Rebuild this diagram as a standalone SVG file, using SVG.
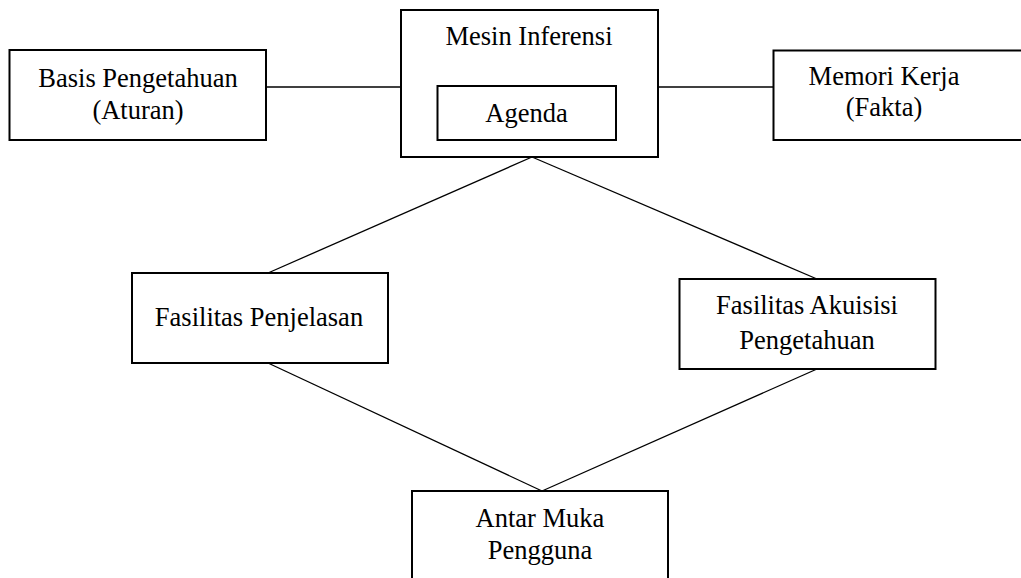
<svg xmlns="http://www.w3.org/2000/svg" width="1021" height="578" viewBox="0 0 1021 578">
<style>
.box{fill:#fff;stroke:#000;stroke-width:2}
.ln{stroke:#000;stroke-width:1.3;fill:none}
text{font-family:"Liberation Serif","Times New Roman",serif;font-size:26.5px;fill:#000;text-anchor:middle}
</style>
<rect width="1021" height="578" fill="#fff"/>
<g id="connectors">
<line class="ln" x1="266" y1="87" x2="401" y2="87"/>
<line class="ln" x1="658" y1="87" x2="773" y2="87"/>
<line class="ln" x1="532" y1="157" x2="268" y2="273"/>
<line class="ln" x1="532" y1="157" x2="817" y2="279"/>
<line class="ln" x1="268" y1="363" x2="542" y2="491"/>
<line class="ln" x1="817" y1="369" x2="542" y2="491"/>
</g>
<g id="basis">
<rect class="box" x="9.5" y="50" width="256.5" height="90"/>
<text x="138" y="87">Basis Pengetahuan</text>
<text x="138" y="119">(Aturan)</text>
</g>
<g id="mesin">
<rect class="box" x="401" y="10" width="257" height="147"/>
<text x="529" y="45">Mesin Inferensi</text>
</g>
<g id="agenda">
<rect class="box" x="437.5" y="86" width="178.5" height="54"/>
<text x="526.5" y="122">Agenda</text>
</g>
<g id="memori">
<rect class="box" x="773.5" y="50.5" width="260" height="89.5"/>
<text x="884" y="85">Memori Kerja</text>
<text x="884" y="116">(Fakta)</text>
</g>
<g id="penjelasan">
<rect class="box" x="132" y="273" width="256" height="90"/>
<text x="259" y="326">Fasilitas Penjelasan</text>
</g>
<g id="akuisisi">
<rect class="box" x="679.5" y="279" width="256" height="90"/>
<text x="807" y="314">Fasilitas Akuisisi</text>
<text x="807" y="349">Pengetahuan</text>
</g>
<g id="antarmuka">
<rect class="box" x="412" y="491" width="256" height="100"/>
<text x="540" y="527">Antar Muka</text>
<text x="540" y="559">Pengguna</text>
</g>
</svg>
